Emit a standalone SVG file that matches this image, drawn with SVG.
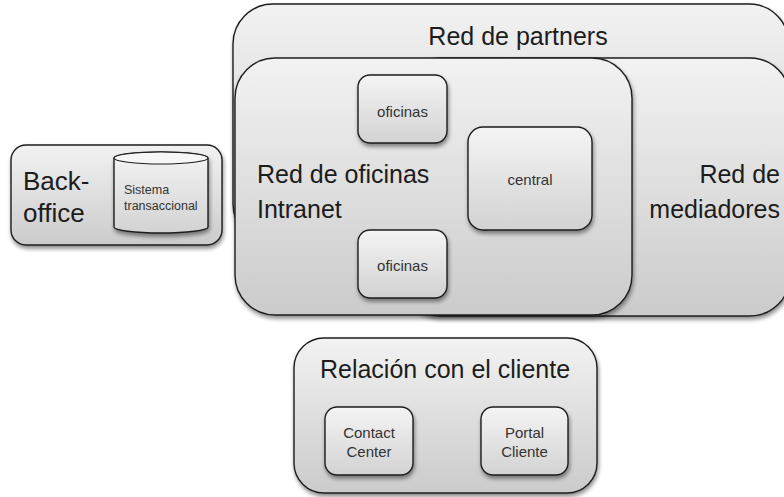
<svg xmlns="http://www.w3.org/2000/svg" width="784" height="497" viewBox="0 0 784 497">
  <defs>
    <linearGradient id="g" x1="0" y1="0" x2="0" y2="1">
      <stop offset="0" stop-color="#f2f2f2"/>
      <stop offset="1" stop-color="#cbcbcb"/>
    </linearGradient>
    <linearGradient id="gs" x1="0" y1="0" x2="0" y2="1">
      <stop offset="0" stop-color="#f4f4f4"/>
      <stop offset="1" stop-color="#d2d2d2"/>
    </linearGradient>
    <filter id="sh" x="-10%" y="-10%" width="130%" height="130%">
      <feGaussianBlur in="SourceAlpha" stdDeviation="2"/>
      <feOffset dx="1" dy="3" result="b"/>
      <feComponentTransfer><feFuncA type="linear" slope="0.45"/></feComponentTransfer>
      <feMerge><feMergeNode/><feMergeNode in="SourceGraphic"/></feMerge>
    </filter>
  </defs>
  <style>
    .box{fill:url(#g);stroke:#1e1e1e;stroke-width:1.4;filter:url(#sh)}
    .sbox{fill:url(#gs);stroke:#1e1e1e;stroke-width:1.4;filter:url(#sh)}
    .big{font-family:"Liberation Sans",Arial,sans-serif;font-size:25px;fill:#1c1c1c}
    .sm{font-family:"Liberation Sans",Arial,sans-serif;font-size:15px;fill:#333;text-anchor:middle}
    .xs{font-family:"Liberation Sans",Arial,sans-serif;font-size:12.5px;fill:#333}
  </style>

  <g id="partners">
    <rect class="box" x="233" y="4" width="556" height="240" rx="40" ry="40"/>
    <text class="big" x="518" y="45" text-anchor="middle">Red de partners</text>
  </g>

  <g id="mediadores">
    <rect class="box" x="400" y="58" width="390" height="258" rx="40" ry="40"/>
    <text class="big" x="780" y="183" text-anchor="end">Red de</text>
    <text class="big" x="780" y="218" text-anchor="end">mediadores</text>
  </g>

  <g id="intranet">
    <rect class="box" x="235" y="58" width="397" height="257" rx="40" ry="40"/>
    <text class="big" x="257" y="183">Red de oficinas</text>
    <text class="big" x="257" y="218">Intranet</text>
  </g>

  <g id="oficinas1">
    <rect class="sbox" x="358" y="75" width="89" height="68" rx="12" ry="12"/>
    <text class="sm" x="402.5" y="117">oficinas</text>
  </g>

  <g id="central">
    <rect class="sbox" x="468" y="127" width="124" height="103" rx="15" ry="15"/>
    <text class="sm" x="530" y="185">central</text>
  </g>

  <g id="oficinas2">
    <rect class="sbox" x="358" y="230" width="89" height="68" rx="12" ry="12"/>
    <text class="sm" x="402.5" y="271">oficinas</text>
  </g>

  <g id="backoffice">
    <rect class="box" x="11" y="145" width="211" height="100" rx="15" ry="15"/>
    <text class="big" x="23" y="190" style="font-size:26px">Back-</text>
    <text class="big" x="23" y="222" style="font-size:26px">office</text>
  </g>

  <g id="sistema">
    <path class="sbox" d="M114,158 L114,227 A47,6 0 0 0 208,227 L208,158 A47,6 0 0 0 114,158 Z"/>
    <ellipse cx="161" cy="158" rx="47" ry="6" fill="#f6f6f6" stroke="#1e1e1e" stroke-width="1.2"/>
    <text class="xs" x="124" y="194">Sistema</text>
    <text class="xs" x="124" y="210">transaccional</text>
  </g>

  <g id="relacion">
    <rect class="box" x="294" y="338" width="303" height="155" rx="30" ry="30"/>
    <text class="big" x="445" y="378" text-anchor="middle">Relación con el cliente</text>
  </g>

  <g id="contact">
    <rect class="sbox" x="325" y="407" width="88" height="68" rx="12" ry="12"/>
    <text class="sm" x="369" y="438">Contact</text>
    <text class="sm" x="369" y="457">Center</text>
  </g>

  <g id="portal">
    <rect class="sbox" x="481" y="407" width="87" height="68" rx="12" ry="12"/>
    <text class="sm" x="524.5" y="438">Portal</text>
    <text class="sm" x="524.5" y="457">Cliente</text>
  </g>

  <g id="connectors"></g>
</svg>
